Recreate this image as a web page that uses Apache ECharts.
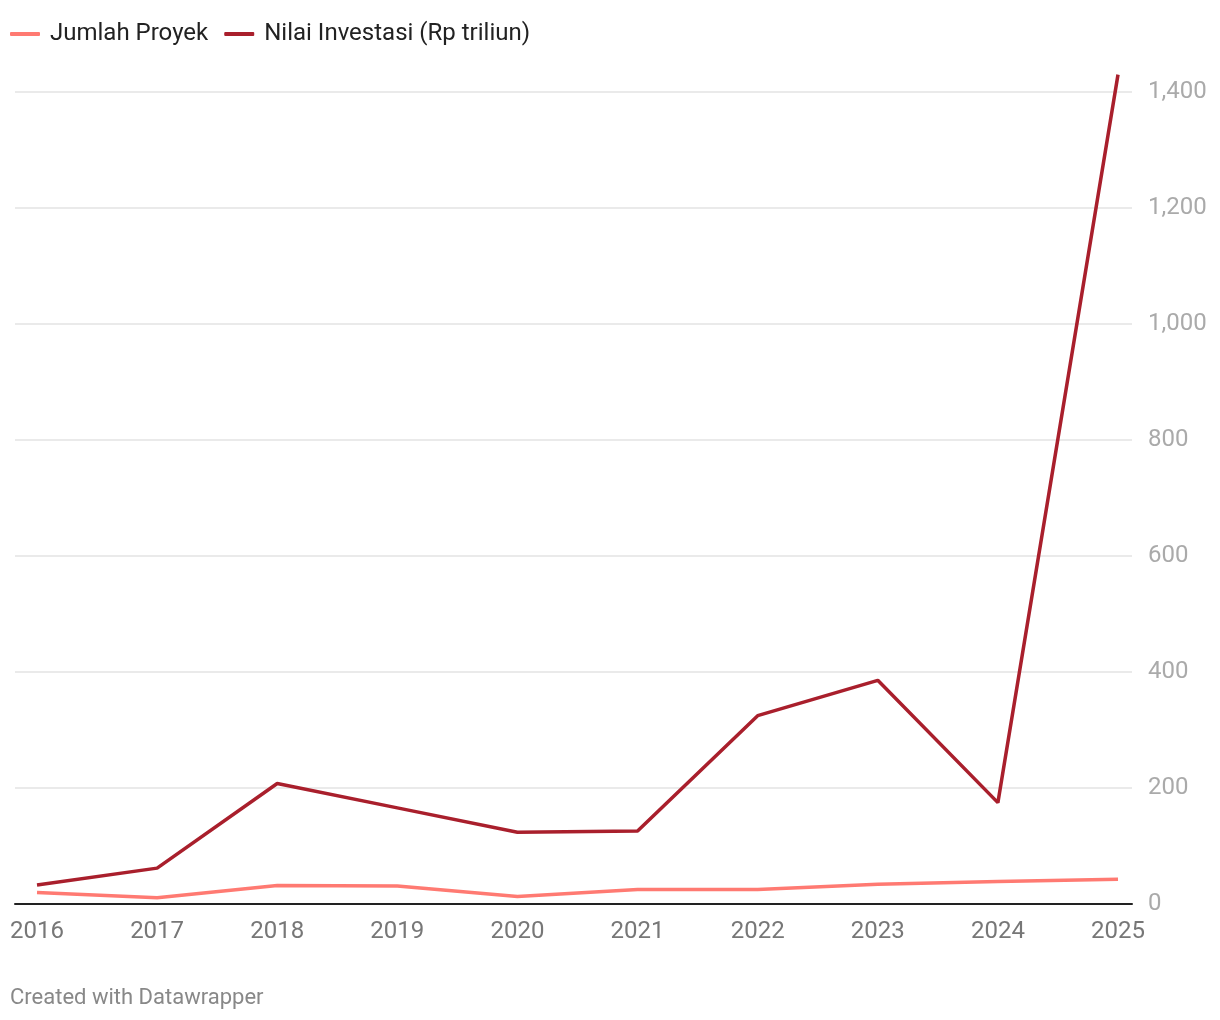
<!DOCTYPE html>
<html><head><meta charset="utf-8">
<script src="https://cdn.jsdelivr.net/npm/echarts@6/dist/echarts.min.js"></script>
<style>html,body{margin:0;padding:0;background:#fff}#c{width:1220px;height:1020px}</style>
</head><body><div id="c"></div>
<script>
const years = ['2016','2017','2018','2019','2020','2021','2022','2023','2024','2025'];
const jumlahProyek = [19, 10, 31, 30, 12, 24, 24, 33, 38, 42];
const nilaiInvestasi = [32, 61, 207, 165, 123, 125, 324, 385, 174, 1430];
const yTicks = [0, 200, 400, 600, 800, 1000, 1200, 1400];
const FONT = 'Roboto';
const chart = echarts.init(document.getElementById('c'));
chart.setOption({
  animation: false,
  textStyle: { fontFamily: FONT },
  title: {
    text: 'Created with Datawrapper', left: 5, bottom: 6,
    textStyle: { fontFamily: FONT, fontSize: 22, fontWeight: 'normal', color: '#888' }
  },
  legend: {
    left: 5, top: 17, itemWidth: 30, itemHeight: 4, itemGap: 16, icon: 'roundRect',
    textStyle: { fontFamily: FONT, fontSize: 24, color: '#222', padding: [0, 0, 0, 5] },
    data: ['Jumlah Proyek', 'Nilai Investasi (Rp triliun)']
  },
  grid: [
    { left: 15, right: 88, top: 92, bottom: 116.5 },
    { left: 37, right: 102, top: 92, bottom: 116.5 }
  ],
  xAxis: [
    { gridIndex: 0, type: 'value', min: 0, max: 1, show: true,
      axisLine: { show: true, lineStyle: { color: '#222', width: 2 } },
      axisTick: { show: false }, axisLabel: { show: false }, splitLine: { show: false } },
    { gridIndex: 1, type: 'category', data: years, boundaryGap: false,
      axisLine: { show: false }, axisTick: { show: false },
      axisLabel: { color: '#777', fontSize: 24, margin: 16, fontFamily: FONT } }
  ],
  yAxis: [
    { gridIndex: 0, type: 'value', position: 'right', min: 0, max: yTicks[yTicks.length - 1], interval: 200,
      axisLine: { show: false }, axisTick: { show: false },
      axisLabel: { color: '#aaa', fontSize: 24, margin: 16, fontFamily: FONT,
        formatter: v => v.toLocaleString('en-US') },
      splitLine: { lineStyle: { color: '#e3e3e3', width: 1.5 } } },
    { gridIndex: 1, type: 'value', min: 0, max: yTicks[yTicks.length - 1], show: false }
  ],
  series: [
    { name: 'Jumlah Proyek', type: 'line', xAxisIndex: 1, yAxisIndex: 1, data: jumlahProyek,
      symbol: 'none', clip: false, color: '#ff7a72', lineStyle: { width: 3.5, color: '#ff7a72' } },
    { name: 'Nilai Investasi (Rp triliun)', type: 'line', xAxisIndex: 1, yAxisIndex: 1, data: nilaiInvestasi,
      symbol: 'none', clip: false, color: '#a91f2c', lineStyle: { width: 3.5, color: '#a91f2c' } }
  ]
});
</script></body></html>
